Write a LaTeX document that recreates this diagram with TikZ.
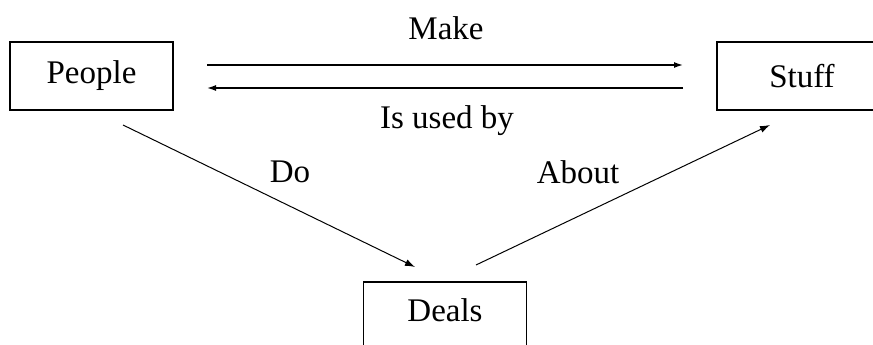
\documentclass[tikz,border=0pt]{standalone}
\usepackage{fontspec}
\setmainfont{Liberation Serif}
\usetikzlibrary{arrows.meta}
\tikzset{
  box/.style={draw, line width=1.3pt, minimum width=163pt, minimum height=68pt, inner sep=0pt, font=\fontsize{33}{38}\selectfont},
  lbl/.style={inner sep=0pt, font=\fontsize{33}{38}\selectfont},
  harr/.style={line width=1.4pt, -{Latex[length=9pt,width=6pt]}},
  darr/.style={line width=1pt, -{Latex[length=10pt,width=7pt]}}
}
\begin{document}
\begin{tikzpicture}[x=1pt,y=-1pt]
\useasboundingbox (0,0) rectangle (873,345);
\fill[white] (0,0) rectangle (873,345);
\clip (0,0) rectangle (873,345);
\node[box] (People) at (91.5,76) {People};
\node[box, minimum width=170pt] (Stuff) at (802,76) {Stuff};
\node[box, text depth=12pt] (Deals) at (445,316) {Deals};
\coordinate (mk1) at (207,65);
\coordinate (mk2) at (683,65);
\coordinate (ub1) at (683,88);
\coordinate (ub2) at (207,88);
\coordinate (do1) at (123,125);
\coordinate (do2) at (415,267);
\coordinate (ab1) at (476,265);
\coordinate (ab2) at (770,125);
\draw[harr] (mk1) -- (mk2);
\draw[harr] (ub1) -- (ub2);
\draw[darr] (do1) -- (do2);
\draw[darr] (ab1) -- (ab2);
\node[lbl] (lMake) at (446,28) {Make};
\node[lbl] (lUsed) at (447,121) {Is used by};
\node[lbl] (lDo) at (290,172) {Do};
\node[lbl] (lAbout) at (578,172) {About};
\end{tikzpicture}
\end{document}
